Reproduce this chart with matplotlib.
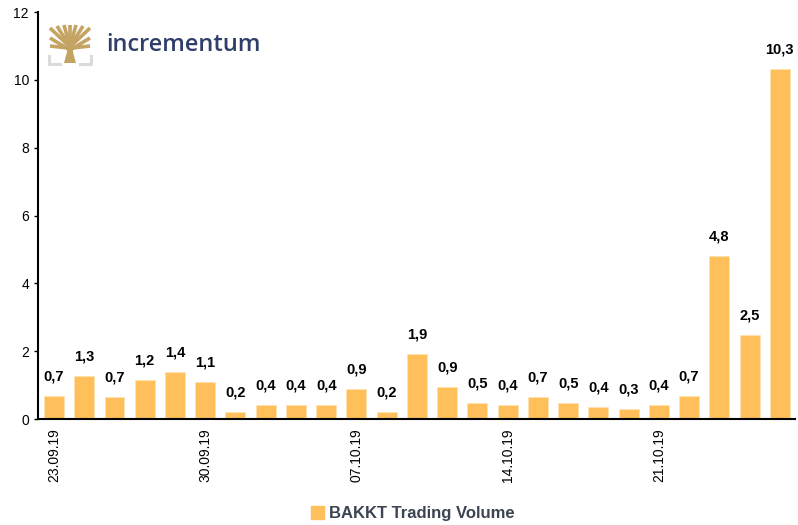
import matplotlib.pyplot as plt
from matplotlib.lines import Line2D
from matplotlib.patches import Rectangle, Polygon

plt.rcParams['font.family'] = ['Liberation Sans', 'DejaVu Sans']

# daily BAKKT volume (mn USD), weekdays 23.09.19 - 25.10.19
volume = [0.68, 1.28, 0.65, 1.15, 1.38, 1.08, 0.22, 0.42, 0.40, 0.41,
          0.88, 0.20, 1.93, 0.93, 0.48, 0.40, 0.64, 0.47, 0.36, 0.30,
          0.40, 0.69, 4.82, 2.48, 10.31]
labels = ['0,7', '1,3', '0,7', '1,2', '1,4', '1,1', '0,2', '0,4', '0,4', '0,4',
          '0,9', '0,2', '1,9', '0,9', '0,5', '0,4', '0,7', '0,5', '0,4', '0,3',
          '0,4', '0,7', '4,8', '2,5', '10,3']
date_pos = [0, 5, 10, 15, 20]
date_labels = ['23.09.19', '30.09.19', '07.10.19', '14.10.19', '21.10.19']

bar_color = '#FFBF5A'

fig = plt.figure(figsize=(7.98, 5.25), dpi=100)
ax = fig.add_axes([0.0476, 0.2019, 0.9486, 0.7752])

x = range(len(volume))
bars = ax.bar(x, volume, width=0.66, color=bar_color, edgecolor='#FFE2B0', linewidth=0.6)
for b, lab in zip(bars, labels):
    ax.annotate(lab, (b.get_x() + b.get_width() / 2, b.get_height()),
                xytext=(0, 9), textcoords='offset points', ha='center', va='bottom',
                fontsize=10.5, fontweight='bold', color='black')

ax.set_xlim(-0.53, 24.5)
ax.set_ylim(0, 12)
ax.set_yticks([0, 2, 4, 6, 8, 10, 12])
ax.tick_params(axis='y', labelsize=10, length=3, width=1, colors='black')
ax.set_xticks(date_pos)
ax.set_xticklabels(date_labels, rotation=90, fontsize=10)
ax.tick_params(axis='x', length=0, pad=7)
for s in ['top', 'right']:
    ax.spines[s].set_visible(False)
ax.spines['left'].set_linewidth(1.5)
ax.spines['bottom'].set_linewidth(1.5)

# legend
handle = Rectangle((0, 0), 1, 1, color=bar_color)
fig.legend([handle], ['BAKKT Trading Volume'], loc='center', bbox_to_anchor=(0.517, 0.022),
           frameon=False, handlelength=0.8, handleheight=0.8, handletextpad=0.3,
           prop={'weight': 'bold', 'size': 12}, labelcolor='#3b4452')

# incrementum logo
gold = '#C4A462'
grey = '#DADADA'
W, H = 798, 525
def px(xp, yp):
    return xp / W, 1 - yp / H
trunk = [(64, 63), (76, 63), (73, 52), (73, 45), (67, 45), (67, 52)]
fig.add_artist(Polygon([px(*p) for p in trunk], closed=True, color=gold, lw=0))
branches = [((70, 47), (50, 28)), ((70, 47), (57, 26)), ((70, 47), (64, 25)),
            ((70, 47), (70, 25)), ((70, 47), (76, 25)), ((70, 47), (83, 26)),
            ((70, 47), (90, 28)), ((70, 50), (50, 38)), ((70, 50), (90, 38)),
            ((68, 48), (50, 46)), ((72, 48), (90, 46))]
for (a, b) in branches:
    (x0, y0), (x1, y1) = px(*a), px(*b)
    fig.add_artist(Line2D([x0, x1], [y0, y1], color=gold, lw=2.6, solid_capstyle='butt'))
for seg in [[(49, 56), (49, 64), (60, 64)], [(80, 64), (91, 64), (91, 56)]]:
    xs, ys = zip(*[px(*p) for p in seg])
    fig.add_artist(Line2D(xs, ys, color=grey, lw=2.2))
tx, ty = px(106, 45)
fig.text(tx, ty, 'incrementum', fontsize=17, color='#2F3F6A', fontweight='semibold',
         va='center', ha='left', family='Open Sans')

fig.savefig('out.png', dpi=100)
